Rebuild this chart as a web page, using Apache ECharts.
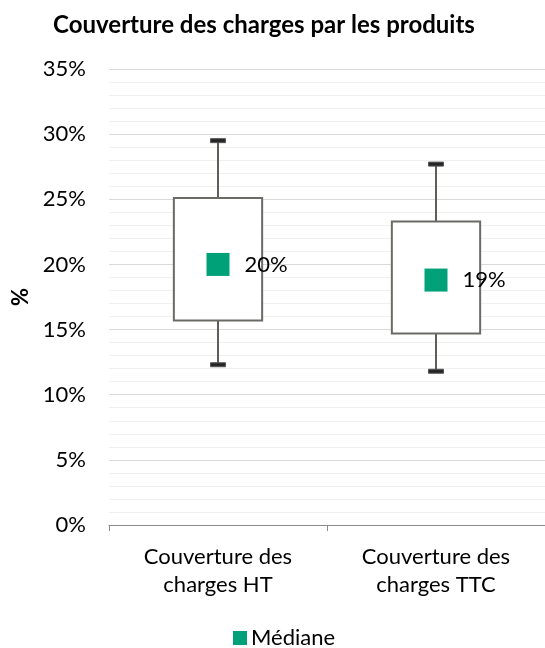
<!DOCTYPE html>
<html>
<head>
<meta charset="utf-8">
<script src="https://cdn.jsdelivr.net/npm/echarts@6/dist/echarts.min.js"></script>
<style>
  html, body { margin: 0; padding: 0; background: #fff; }
  #chart { width: 545px; height: 648px; }
</style>
</head>
<body>
<div id="chart"></div>
<script>
// Categories and box statistics (values in %)
const categories = ['Couverture des\ncharges HT', 'Couverture des\ncharges TTC'];
const whiskerMin = [12.3, 11.8];
const quartile1 = [15.7, 14.7];
const quartile3 = [25.1, 23.3];
const whiskerMax = [29.5, 27.7];
const medians = [20.0, 18.8];
const yTicks = { min: 0, max: 35, interval: 5 };

const FONT = 'Lato, "Open Sans", "Noto Sans", sans-serif';

const boxData = categories.map((c, i) => [i, whiskerMin[i], quartile1[i], quartile3[i], whiskerMax[i]]);

function renderBox(params, api) {
  const idx = api.value(0);
  const pMin = api.coord([idx, api.value(1)]);
  const pQ1 = api.coord([idx, api.value(2)]);
  const pQ3 = api.coord([idx, api.value(3)]);
  const pMax = api.coord([idx, api.value(4)]);
  const bandW = api.size([1, 0])[0];
  const boxW = bandW * 0.405;
  const capW = 15, capH = 4;
  const x = pQ1[0];
  const lineStyle = { stroke: '#5f5f5a', lineWidth: 2 };
  return {
    type: 'group',
    children: [
      { type: 'line', shape: { x1: x, y1: pQ3[1], x2: x, y2: pMax[1] }, style: lineStyle },
      { type: 'line', shape: { x1: x, y1: pQ1[1], x2: x, y2: pMin[1] }, style: lineStyle },
      { type: 'rect', shape: { x: x - boxW / 2, y: pQ3[1], width: boxW, height: pQ1[1] - pQ3[1] },
        style: { fill: '#ffffff', stroke: '#6b6b66', lineWidth: 2 } },
      { type: 'rect', shape: { x: x - capW / 2, y: pMax[1] - capH / 2, width: capW, height: capH },
        style: { fill: '#262626', stroke: '#555', lineWidth: 1 } },
      { type: 'rect', shape: { x: x - capW / 2, y: pMin[1] - capH / 2, width: capW, height: capH },
        style: { fill: '#262626', stroke: '#555', lineWidth: 1 } }
    ]
  };
}

const chart = echarts.init(document.getElementById('chart'), null, { renderer: 'canvas' });
chart.setOption({
  animation: false,
  backgroundColor: '#ffffff',
  textStyle: { fontFamily: FONT },
  title: {
    text: 'Couverture des charges par les produits',
    left: 259, textAlign: 'center', top: 8,
    textStyle: { fontFamily: FONT, fontWeight: 'bold', fontSize: 24, color: '#000' }
  },
  legend: {
    data: ['Médiane'],
    left: 228, top: 622,
    icon: 'rect', itemWidth: 14, itemHeight: 14, itemGap: 4,
    textStyle: { fontFamily: FONT, fontSize: 22, color: '#000', padding: [0, 0, 0, -1] }
  },
  grid: { left: 109, top: 69, width: 440, bottom: 123 },
  xAxis: {
    type: 'category',
    data: categories,
    boundaryGap: true,
    axisLine: { lineStyle: { color: '#8c8c8c', width: 1 } },
    axisTick: { show: true, alignWithLabel: false, length: 6, lineStyle: { color: '#8c8c8c' } },
    axisLabel: { fontFamily: FONT, fontSize: 22, color: '#000', margin: 18, lineHeight: 28 }
  },
  yAxis: {
    type: 'value',
    min: yTicks.min, max: yTicks.max, interval: yTicks.interval,
    name: '%', nameLocation: 'middle', nameRotate: 90, nameGap: 68,
    nameTextStyle: { fontFamily: FONT, fontWeight: 'bold', fontSize: 22, color: '#000' },
    axisLine: { show: false },
    axisTick: { show: false },
    axisLabel: { fontFamily: FONT, fontSize: 22, color: '#000', margin: 23, formatter: v => v + '%' },
    splitLine: { lineStyle: { color: '#d9d9d9', width: 1 } },
    minorTick: { show: false, splitNumber: 5 },
    minorSplitLine: { show: true, lineStyle: { color: '#f0f0f0', width: 1 } }
  },
  series: [
    {
      type: 'custom',
      name: 'Boîte',
      renderItem: renderBox,
      data: boxData,
      encode: { x: 0, y: [1, 2, 3, 4] },
      z: 2
    },
    {
      type: 'scatter',
      name: 'Médiane',
      data: medians.map((m, i) => [i, m]),
      symbol: 'rect',
      symbolSize: 23,
      itemStyle: { color: '#00a078', opacity: 1 },
      label: {
        show: true, position: 'right', distance: 15,
        fontFamily: FONT, fontSize: 22, color: '#000', opacity: 1,
        formatter: p => Math.round(p.value[1]) + '%'
      },
      z: 3
    }
  ]
});
</script>
</body>
</html>
